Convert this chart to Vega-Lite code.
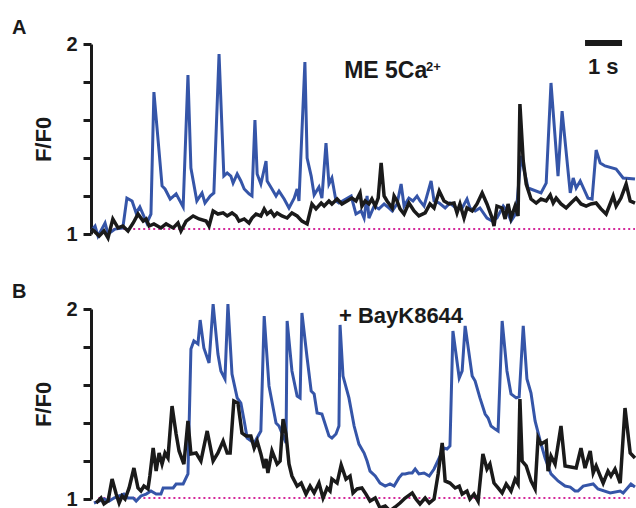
{
 "$schema": "https://vega.github.io/schema/vega-lite/v6.json",
 "background": "white",
 "padding": {"left": 12, "top": 18, "right": 0, "bottom": 0},
 "bounds": "flush",
 "spacing": 75,
 "config": {
  "view": {"stroke": null},
  "font": "Liberation Sans",
  "axisY": {
   "values": [1, 1.3333, 1.6667, 2],
   "labelExpr": "datum.value == 1 ? '1' : (datum.value == 2 ? '2' : '')",
   "titleFontSize": 22, "titleFontWeight": "bold", "titleColor": "#1a1a1a", "titlePadding": 10,
   "labelFontSize": 20, "labelFontWeight": "bold", "labelColor": "#1a1a1a", "labelPadding": 6,
   "tickSize": 8, "tickWidth": 3, "tickColor": "#1a1a1a", "domainWidth": 3, "domainColor": "#1a1a1a",
   "grid": false, "labelFlush": false, "labelOverlap": false
  },
  "title": {"anchor": "start", "frame": "group", "fontSize": 20, "fontWeight": "bold", "color": "#1a1a1a"}
 },
 "datasets": {
  "A": [
{"s":"b","t":0.00,"v":1.016},{"s":"b","t":0.11,"v":1.042},{"s":"b","t":0.19,"v":0.989},{"s":"b","t":0.38,"v":1.058},{"s":"b","t":0.46,"v":1.000},{"s":"b","t":0.65,"v":1.026},{"s":"b","t":0.86,"v":1.032},{"s":"b","t":0.97,"v":1.189},{"s":"b","t":1.11,"v":1.174},{"s":"b","t":1.22,"v":1.111},{"s":"b","t":1.32,"v":1.142},{"s":"b","t":1.51,"v":1.058},{"s":"b","t":1.62,"v":1.105},{"s":"b","t":1.70,"v":1.747},{"s":"b","t":1.92,"v":1.253},{"s":"b","t":2.00,"v":1.237},{"s":"b","t":2.14,"v":1.184},{"s":"b","t":2.30,"v":1.211},{"s":"b","t":2.49,"v":1.142},{"s":"b","t":2.62,"v":1.837},{"s":"b","t":2.70,"v":1.347},{"s":"b","t":2.86,"v":1.174},{"s":"b","t":3.00,"v":1.216},{"s":"b","t":3.08,"v":1.163},{"s":"b","t":3.22,"v":1.200},{"s":"b","t":3.32,"v":1.216},{"s":"b","t":3.46,"v":1.947},{"s":"b","t":3.59,"v":1.305},{"s":"b","t":3.68,"v":1.321},{"s":"b","t":3.78,"v":1.305},{"s":"b","t":3.84,"v":1.268},{"s":"b","t":3.95,"v":1.316},{"s":"b","t":4.05,"v":1.279},{"s":"b","t":4.14,"v":1.237},{"s":"b","t":4.27,"v":1.211},{"s":"b","t":4.35,"v":1.200},{"s":"b","t":4.43,"v":1.600},{"s":"b","t":4.49,"v":1.316},{"s":"b","t":4.59,"v":1.263},{"s":"b","t":4.73,"v":1.384},{"s":"b","t":4.76,"v":1.279},{"s":"b","t":4.89,"v":1.237},{"s":"b","t":5.00,"v":1.200},{"s":"b","t":5.08,"v":1.226},{"s":"b","t":5.22,"v":1.184},{"s":"b","t":5.35,"v":1.137},{"s":"b","t":5.49,"v":1.189},{"s":"b","t":5.57,"v":1.237},{"s":"b","t":5.62,"v":1.174},{"s":"b","t":5.78,"v":1.905},{"s":"b","t":5.84,"v":1.400},{"s":"b","t":5.95,"v":1.305},{"s":"b","t":6.03,"v":1.205},{"s":"b","t":6.16,"v":1.247},{"s":"b","t":6.24,"v":1.189},{"s":"b","t":6.35,"v":1.479},{"s":"b","t":6.43,"v":1.263},{"s":"b","t":6.51,"v":1.295},{"s":"b","t":6.62,"v":1.174},{"s":"b","t":6.70,"v":1.163},{"s":"b","t":7.03,"v":1.200},{"s":"b","t":7.16,"v":1.105},{"s":"b","t":7.30,"v":1.121},{"s":"b","t":7.38,"v":1.084},{"s":"b","t":7.46,"v":1.200},{"s":"b","t":7.51,"v":1.084},{"s":"b","t":7.65,"v":1.147},{"s":"b","t":7.78,"v":1.132},{"s":"b","t":7.92,"v":1.158},{"s":"b","t":8.05,"v":1.137},{"s":"b","t":8.14,"v":1.121},{"s":"b","t":8.27,"v":1.158},{"s":"b","t":8.38,"v":1.263},{"s":"b","t":8.46,"v":1.147},{"s":"b","t":8.59,"v":1.189},{"s":"b","t":8.70,"v":1.174},{"s":"b","t":8.81,"v":1.200},{"s":"b","t":8.89,"v":1.174},{"s":"b","t":9.00,"v":1.147},{"s":"b","t":9.19,"v":1.279},{"s":"b","t":9.27,"v":1.174},{"s":"b","t":9.41,"v":1.163},{"s":"b","t":9.57,"v":1.137},{"s":"b","t":9.70,"v":1.163},{"s":"b","t":9.89,"v":1.132},{"s":"b","t":10.03,"v":1.137},{"s":"b","t":10.16,"v":1.184},{"s":"b","t":10.24,"v":1.137},{"s":"b","t":10.38,"v":1.121},{"s":"b","t":10.51,"v":1.137},{"s":"b","t":10.70,"v":1.084},{"s":"b","t":10.84,"v":1.068},{"s":"b","t":10.97,"v":1.084},{"s":"b","t":11.14,"v":1.147},{"s":"b","t":11.24,"v":1.121},{"s":"b","t":11.35,"v":1.068},{"s":"b","t":11.49,"v":1.111},{"s":"b","t":11.62,"v":1.411},{"s":"b","t":11.81,"v":1.242},{"s":"b","t":12.16,"v":1.216},{"s":"b","t":12.30,"v":1.268},{"s":"b","t":12.43,"v":1.795},{"s":"b","t":12.62,"v":1.305},{"s":"b","t":12.73,"v":1.647},{"s":"b","t":12.95,"v":1.216},{"s":"b","t":13.03,"v":1.295},{"s":"b","t":13.11,"v":1.242},{"s":"b","t":13.22,"v":1.279},{"s":"b","t":13.43,"v":1.189},{"s":"b","t":13.54,"v":1.184},{"s":"b","t":13.65,"v":1.442},{"s":"b","t":13.76,"v":1.374},{"s":"b","t":13.89,"v":1.358},{"s":"b","t":14.19,"v":1.342},{"s":"b","t":14.38,"v":1.295},{"s":"b","t":14.70,"v":1.289},
{"s":"k","t":0.00,"v":1.026},{"s":"k","t":0.08,"v":1.016},{"s":"k","t":0.22,"v":0.989},{"s":"k","t":0.35,"v":1.016},{"s":"k","t":0.46,"v":0.979},{"s":"k","t":0.59,"v":1.079},{"s":"k","t":0.73,"v":1.032},{"s":"k","t":0.86,"v":1.042},{"s":"k","t":1.00,"v":1.016},{"s":"k","t":1.14,"v":1.058},{"s":"k","t":1.27,"v":1.105},{"s":"k","t":1.41,"v":1.068},{"s":"k","t":1.49,"v":1.079},{"s":"k","t":1.57,"v":1.042},{"s":"k","t":1.70,"v":1.053},{"s":"k","t":1.89,"v":1.032},{"s":"k","t":2.03,"v":1.053},{"s":"k","t":2.22,"v":1.032},{"s":"k","t":2.35,"v":1.058},{"s":"k","t":2.43,"v":1.016},{"s":"k","t":2.57,"v":1.068},{"s":"k","t":2.76,"v":1.095},{"s":"k","t":2.92,"v":1.079},{"s":"k","t":3.11,"v":1.068},{"s":"k","t":3.19,"v":1.042},{"s":"k","t":3.30,"v":1.121},{"s":"k","t":3.43,"v":1.105},{"s":"k","t":3.57,"v":1.111},{"s":"k","t":3.68,"v":1.095},{"s":"k","t":3.81,"v":1.111},{"s":"k","t":3.92,"v":1.095},{"s":"k","t":4.00,"v":1.068},{"s":"k","t":4.14,"v":1.079},{"s":"k","t":4.27,"v":1.058},{"s":"k","t":4.35,"v":1.084},{"s":"k","t":4.46,"v":1.105},{"s":"k","t":4.59,"v":1.095},{"s":"k","t":4.68,"v":1.132},{"s":"k","t":4.76,"v":1.105},{"s":"k","t":4.86,"v":1.121},{"s":"k","t":4.95,"v":1.095},{"s":"k","t":5.03,"v":1.111},{"s":"k","t":5.16,"v":1.095},{"s":"k","t":5.30,"v":1.084},{"s":"k","t":5.43,"v":1.111},{"s":"k","t":5.57,"v":1.095},{"s":"k","t":5.70,"v":1.068},{"s":"k","t":5.84,"v":1.053},{"s":"k","t":5.97,"v":1.158},{"s":"k","t":6.08,"v":1.132},{"s":"k","t":6.22,"v":1.163},{"s":"k","t":6.30,"v":1.147},{"s":"k","t":6.43,"v":1.174},{"s":"k","t":6.51,"v":1.158},{"s":"k","t":6.65,"v":1.184},{"s":"k","t":6.78,"v":1.158},{"s":"k","t":6.92,"v":1.174},{"s":"k","t":7.05,"v":1.189},{"s":"k","t":7.16,"v":1.174},{"s":"k","t":7.27,"v":1.216},{"s":"k","t":7.32,"v":1.147},{"s":"k","t":7.41,"v":1.174},{"s":"k","t":7.51,"v":1.158},{"s":"k","t":7.59,"v":1.184},{"s":"k","t":7.68,"v":1.147},{"s":"k","t":7.76,"v":1.189},{"s":"k","t":7.84,"v":1.374},{"s":"k","t":7.92,"v":1.200},{"s":"k","t":8.00,"v":1.174},{"s":"k","t":8.14,"v":1.137},{"s":"k","t":8.19,"v":1.200},{"s":"k","t":8.27,"v":1.174},{"s":"k","t":8.35,"v":1.132},{"s":"k","t":8.46,"v":1.105},{"s":"k","t":8.59,"v":1.163},{"s":"k","t":8.73,"v":1.121},{"s":"k","t":8.86,"v":1.095},{"s":"k","t":9.03,"v":1.111},{"s":"k","t":9.16,"v":1.158},{"s":"k","t":9.27,"v":1.137},{"s":"k","t":9.41,"v":1.226},{"s":"k","t":9.54,"v":1.174},{"s":"k","t":9.68,"v":1.158},{"s":"k","t":9.81,"v":1.163},{"s":"k","t":9.89,"v":1.111},{"s":"k","t":9.97,"v":1.158},{"s":"k","t":10.08,"v":1.084},{"s":"k","t":10.16,"v":1.137},{"s":"k","t":10.30,"v":1.121},{"s":"k","t":10.43,"v":1.158},{"s":"k","t":10.57,"v":1.216},{"s":"k","t":10.70,"v":1.158},{"s":"k","t":10.84,"v":1.084},{"s":"k","t":10.89,"v":1.042},{"s":"k","t":10.97,"v":1.147},{"s":"k","t":11.11,"v":1.137},{"s":"k","t":11.19,"v":1.079},{"s":"k","t":11.27,"v":1.158},{"s":"k","t":11.35,"v":1.084},{"s":"k","t":11.46,"v":1.147},{"s":"k","t":11.54,"v":1.095},{"s":"k","t":11.59,"v":1.684},{"s":"k","t":11.68,"v":1.384},{"s":"k","t":11.76,"v":1.263},{"s":"k","t":11.89,"v":1.184},{"s":"k","t":12.03,"v":1.163},{"s":"k","t":12.16,"v":1.184},{"s":"k","t":12.30,"v":1.174},{"s":"k","t":12.41,"v":1.205},{"s":"k","t":12.49,"v":1.163},{"s":"k","t":12.57,"v":1.189},{"s":"k","t":12.70,"v":1.158},{"s":"k","t":12.84,"v":1.137},{"s":"k","t":12.97,"v":1.163},{"s":"k","t":13.11,"v":1.189},{"s":"k","t":13.24,"v":1.158},{"s":"k","t":13.38,"v":1.147},{"s":"k","t":13.51,"v":1.158},{"s":"k","t":13.65,"v":1.163},{"s":"k","t":13.78,"v":1.132},{"s":"k","t":13.92,"v":1.105},{"s":"k","t":14.11,"v":1.200},{"s":"k","t":14.19,"v":1.147},{"s":"k","t":14.32,"v":1.189},{"s":"k","t":14.46,"v":1.263},{"s":"k","t":14.57,"v":1.174},{"s":"k","t":14.70,"v":1.163}
  ],
  "B": [
{"s":"b","t":0.08,"v":0.979},{"s":"b","t":0.22,"v":0.989},{"s":"b","t":0.35,"v":1.000},{"s":"b","t":0.49,"v":0.989},{"s":"b","t":0.62,"v":1.005},{"s":"b","t":0.76,"v":1.016},{"s":"b","t":0.89,"v":1.026},{"s":"b","t":1.00,"v":1.005},{"s":"b","t":1.14,"v":1.005},{"s":"b","t":1.22,"v":0.989},{"s":"b","t":1.35,"v":1.016},{"s":"b","t":1.49,"v":1.026},{"s":"b","t":1.62,"v":1.042},{"s":"b","t":1.76,"v":1.026},{"s":"b","t":1.89,"v":1.026},{"s":"b","t":1.95,"v":1.058},{"s":"b","t":2.22,"v":1.058},{"s":"b","t":2.30,"v":1.079},{"s":"b","t":2.49,"v":1.079},{"s":"b","t":2.62,"v":1.132},{"s":"b","t":2.70,"v":1.789},{"s":"b","t":2.78,"v":1.832},{"s":"b","t":2.89,"v":1.816},{"s":"b","t":2.95,"v":1.942},{"s":"b","t":3.05,"v":1.795},{"s":"b","t":3.19,"v":1.716},{"s":"b","t":3.30,"v":2.026},{"s":"b","t":3.43,"v":1.763},{"s":"b","t":3.51,"v":1.674},{"s":"b","t":3.62,"v":1.632},{"s":"b","t":3.70,"v":2.026},{"s":"b","t":3.81,"v":1.658},{"s":"b","t":3.95,"v":1.532},{"s":"b","t":4.05,"v":1.505},{"s":"b","t":4.14,"v":1.411},{"s":"b","t":4.22,"v":1.321},{"s":"b","t":4.41,"v":1.295},{"s":"b","t":4.59,"v":1.358},{"s":"b","t":4.68,"v":1.963},{"s":"b","t":4.81,"v":1.595},{"s":"b","t":5.00,"v":1.400},{"s":"b","t":5.08,"v":1.384},{"s":"b","t":5.16,"v":1.347},{"s":"b","t":5.27,"v":1.295},{"s":"b","t":5.30,"v":1.937},{"s":"b","t":5.43,"v":1.674},{"s":"b","t":5.57,"v":1.542},{"s":"b","t":5.65,"v":1.532},{"s":"b","t":5.70,"v":1.979},{"s":"b","t":5.84,"v":1.742},{"s":"b","t":5.95,"v":1.568},{"s":"b","t":6.03,"v":1.553},{"s":"b","t":6.11,"v":1.453},{"s":"b","t":6.24,"v":1.447},{"s":"b","t":6.43,"v":1.332},{"s":"b","t":6.51,"v":1.321},{"s":"b","t":6.62,"v":1.342},{"s":"b","t":6.70,"v":1.384},{"s":"b","t":6.73,"v":1.916},{"s":"b","t":6.81,"v":1.647},{"s":"b","t":6.97,"v":1.532},{"s":"b","t":7.11,"v":1.384},{"s":"b","t":7.24,"v":1.289},{"s":"b","t":7.38,"v":1.242},{"s":"b","t":7.46,"v":1.200},{"s":"b","t":7.54,"v":1.147},{"s":"b","t":7.68,"v":1.121},{"s":"b","t":7.81,"v":1.084},{"s":"b","t":7.95,"v":1.068},{"s":"b","t":8.08,"v":1.079},{"s":"b","t":8.19,"v":1.068},{"s":"b","t":8.32,"v":1.111},{"s":"b","t":8.41,"v":1.132},{"s":"b","t":8.49,"v":1.132},{"s":"b","t":8.59,"v":1.137},{"s":"b","t":8.68,"v":1.137},{"s":"b","t":8.76,"v":1.158},{"s":"b","t":8.86,"v":1.132},{"s":"b","t":9.00,"v":1.137},{"s":"b","t":9.14,"v":1.121},{"s":"b","t":9.27,"v":1.158},{"s":"b","t":9.41,"v":1.216},{"s":"b","t":9.54,"v":1.268},{"s":"b","t":9.62,"v":1.263},{"s":"b","t":9.70,"v":1.279},{"s":"b","t":9.78,"v":1.884},{"s":"b","t":9.95,"v":1.637},{"s":"b","t":10.03,"v":1.674},{"s":"b","t":10.11,"v":1.911},{"s":"b","t":10.30,"v":1.647},{"s":"b","t":10.38,"v":1.621},{"s":"b","t":10.51,"v":1.532},{"s":"b","t":10.65,"v":1.447},{"s":"b","t":10.73,"v":1.426},{"s":"b","t":10.81,"v":1.384},{"s":"b","t":10.92,"v":1.368},{"s":"b","t":11.00,"v":1.358},{"s":"b","t":11.11,"v":1.937},{"s":"b","t":11.24,"v":1.674},{"s":"b","t":11.35,"v":1.553},{"s":"b","t":11.49,"v":1.532},{"s":"b","t":11.57,"v":1.537},{"s":"b","t":11.68,"v":1.911},{"s":"b","t":11.78,"v":1.632},{"s":"b","t":11.89,"v":1.558},{"s":"b","t":12.00,"v":1.411},{"s":"b","t":12.14,"v":1.305},{"s":"b","t":12.27,"v":1.216},{"s":"b","t":12.43,"v":1.132},{"s":"b","t":12.62,"v":1.095},{"s":"b","t":12.81,"v":1.068},{"s":"b","t":12.95,"v":1.063},{"s":"b","t":13.08,"v":1.042},{"s":"b","t":13.16,"v":1.042},{"s":"b","t":13.30,"v":1.068},{"s":"b","t":13.57,"v":1.079},{"s":"b","t":13.70,"v":1.053},{"s":"b","t":14.03,"v":1.032},{"s":"b","t":14.30,"v":1.042},{"s":"b","t":14.38,"v":1.032},{"s":"b","t":14.59,"v":1.079},{"s":"b","t":14.70,"v":1.063},
{"s":"k","t":0.14,"v":0.979},{"s":"k","t":0.27,"v":1.005},{"s":"k","t":0.35,"v":0.974},{"s":"k","t":0.46,"v":0.989},{"s":"k","t":0.57,"v":1.105},{"s":"k","t":0.68,"v":1.026},{"s":"k","t":0.76,"v":0.979},{"s":"k","t":0.84,"v":1.016},{"s":"k","t":0.92,"v":1.000},{"s":"k","t":1.03,"v":1.058},{"s":"k","t":1.16,"v":1.163},{"s":"k","t":1.27,"v":1.058},{"s":"k","t":1.35,"v":1.042},{"s":"k","t":1.43,"v":1.068},{"s":"k","t":1.54,"v":1.053},{"s":"k","t":1.59,"v":1.121},{"s":"k","t":1.68,"v":1.268},{"s":"k","t":1.76,"v":1.147},{"s":"k","t":1.84,"v":1.242},{"s":"k","t":1.92,"v":1.184},{"s":"k","t":2.00,"v":1.242},{"s":"k","t":2.08,"v":1.216},{"s":"k","t":2.19,"v":1.489},{"s":"k","t":2.30,"v":1.342},{"s":"k","t":2.38,"v":1.253},{"s":"k","t":2.51,"v":1.184},{"s":"k","t":2.62,"v":1.411},{"s":"k","t":2.70,"v":1.237},{"s":"k","t":2.84,"v":1.242},{"s":"k","t":2.97,"v":1.200},{"s":"k","t":3.14,"v":1.358},{"s":"k","t":3.30,"v":1.200},{"s":"k","t":3.43,"v":1.242},{"s":"k","t":3.57,"v":1.305},{"s":"k","t":3.68,"v":1.242},{"s":"k","t":3.76,"v":1.242},{"s":"k","t":3.86,"v":1.516},{"s":"k","t":3.97,"v":1.505},{"s":"k","t":4.08,"v":1.347},{"s":"k","t":4.19,"v":1.332},{"s":"k","t":4.32,"v":1.332},{"s":"k","t":4.41,"v":1.268},{"s":"k","t":4.49,"v":1.305},{"s":"k","t":4.59,"v":1.237},{"s":"k","t":4.68,"v":1.163},{"s":"k","t":4.73,"v":1.211},{"s":"k","t":4.78,"v":1.137},{"s":"k","t":4.89,"v":1.253},{"s":"k","t":5.03,"v":1.184},{"s":"k","t":5.11,"v":1.200},{"s":"k","t":5.19,"v":1.421},{"s":"k","t":5.27,"v":1.342},{"s":"k","t":5.35,"v":1.184},{"s":"k","t":5.43,"v":1.121},{"s":"k","t":5.57,"v":1.068},{"s":"k","t":5.68,"v":1.084},{"s":"k","t":5.81,"v":1.026},{"s":"k","t":5.92,"v":1.068},{"s":"k","t":6.03,"v":1.032},{"s":"k","t":6.16,"v":1.084},{"s":"k","t":6.27,"v":1.005},{"s":"k","t":6.38,"v":1.058},{"s":"k","t":6.46,"v":1.042},{"s":"k","t":6.51,"v":1.105},{"s":"k","t":6.65,"v":1.084},{"s":"k","t":6.76,"v":1.179},{"s":"k","t":6.89,"v":1.105},{"s":"k","t":7.00,"v":1.121},{"s":"k","t":7.08,"v":1.032},{"s":"k","t":7.19,"v":1.053},{"s":"k","t":7.32,"v":1.058},{"s":"k","t":7.43,"v":1.026},{"s":"k","t":7.54,"v":0.989},{"s":"k","t":7.68,"v":1.005},{"s":"k","t":7.81,"v":0.953},{"s":"k","t":7.95,"v":0.963},{"s":"k","t":8.08,"v":0.937},{"s":"k","t":8.22,"v":0.958},{"s":"k","t":8.35,"v":0.979},{"s":"k","t":8.49,"v":1.005},{"s":"k","t":8.68,"v":1.032},{"s":"k","t":8.78,"v":1.000},{"s":"k","t":8.89,"v":0.974},{"s":"k","t":9.03,"v":1.005},{"s":"k","t":9.14,"v":0.979},{"s":"k","t":9.27,"v":1.000},{"s":"k","t":9.38,"v":1.132},{"s":"k","t":9.49,"v":1.295},{"s":"k","t":9.57,"v":1.095},{"s":"k","t":9.70,"v":1.084},{"s":"k","t":9.84,"v":1.058},{"s":"k","t":9.95,"v":1.068},{"s":"k","t":10.03,"v":1.026},{"s":"k","t":10.16,"v":1.042},{"s":"k","t":10.24,"v":1.000},{"s":"k","t":10.35,"v":1.026},{"s":"k","t":10.46,"v":0.989},{"s":"k","t":10.59,"v":1.237},{"s":"k","t":10.70,"v":1.158},{"s":"k","t":10.78,"v":1.184},{"s":"k","t":10.89,"v":1.084},{"s":"k","t":11.00,"v":1.058},{"s":"k","t":11.11,"v":1.032},{"s":"k","t":11.22,"v":1.079},{"s":"k","t":11.35,"v":1.042},{"s":"k","t":11.46,"v":1.105},{"s":"k","t":11.54,"v":1.079},{"s":"k","t":11.59,"v":1.526},{"s":"k","t":11.65,"v":1.200},{"s":"k","t":11.76,"v":1.174},{"s":"k","t":11.89,"v":1.095},{"s":"k","t":12.00,"v":1.053},{"s":"k","t":12.08,"v":1.321},{"s":"k","t":12.16,"v":1.289},{"s":"k","t":12.30,"v":1.305},{"s":"k","t":12.35,"v":1.147},{"s":"k","t":12.43,"v":1.226},{"s":"k","t":12.54,"v":1.184},{"s":"k","t":12.70,"v":1.384},{"s":"k","t":12.81,"v":1.174},{"s":"k","t":13.11,"v":1.163},{"s":"k","t":13.24,"v":1.268},{"s":"k","t":13.35,"v":1.163},{"s":"k","t":13.49,"v":1.253},{"s":"k","t":13.57,"v":1.137},{"s":"k","t":13.65,"v":1.174},{"s":"k","t":13.76,"v":1.121},{"s":"k","t":13.84,"v":1.084},{"s":"k","t":13.97,"v":1.147},{"s":"k","t":14.05,"v":1.121},{"s":"k","t":14.16,"v":1.158},{"s":"k","t":14.30,"v":1.084},{"s":"k","t":14.43,"v":1.479},{"s":"k","t":14.57,"v":1.242},{"s":"k","t":14.70,"v":1.216}
  ]
 },
 "vconcat": [
  {
   "width": 544, "height": 190,
   "title": {"text": "A", "dx": -79, "offset": -4},
   "data": {"name": "A"},
   "encoding": {
    "x": {"field": "t", "type": "quantitative", "scale": {"domain": [0, 14.7], "nice": false, "zero": false}, "axis": null},
    "y": {"field": "v", "type": "quantitative", "scale": {"domain": [1, 2], "nice": false, "zero": false}, "axis": {"title": "F/F0"}}
   },
   "layer": [
    {"data": {"values": [{"t": 0.6, "t2": 14.7, "v": 1.026}]}, "mark": {"type": "rule", "color": "#d42a9c", "strokeWidth": 2, "strokeDash": [2, 3]}, "encoding": {"x2": {"field": "t2"}}},
    {"transform": [{"filter": "datum.s == 'b'"}], "mark": {"type": "line", "color": "#3555a8", "strokeWidth": 3, "strokeJoin": "miter"}},
    {"transform": [{"filter": "datum.s == 'k'"}], "mark": {"type": "line", "color": "#1a1a1a", "strokeWidth": 3.5, "strokeJoin": "miter"}},
    {"data": {"values": [{"t": 6.84, "v": 1.821, "label": "ME 5Ca"}]}, "mark": {"type": "text", "align": "left", "baseline": "alphabetic", "fontSize": 23, "fontWeight": "bold", "color": "#1a1a1a"}, "encoding": {"text": {"field": "label"}}},
    {"data": {"values": [{"t": 9.05, "v": 1.858, "label": "2+"}]}, "mark": {"type": "text", "align": "left", "baseline": "alphabetic", "fontSize": 13, "fontWeight": "bold", "color": "#1a1a1a"}, "encoding": {"text": {"field": "label"}}},
    {"data": {"values": [{"t": 13.35, "t2": 14.35, "v": 2.005}]}, "mark": {"type": "rule", "color": "#1a1a1a", "strokeWidth": 6}, "encoding": {"x2": {"field": "t2"}}},
    {"data": {"values": [{"t": 13.84, "v": 1.842, "label": "1 s"}]}, "mark": {"type": "text", "align": "center", "baseline": "alphabetic", "fontSize": 22, "fontWeight": "bold", "color": "#1a1a1a"}, "encoding": {"text": {"field": "label"}}}
   ]
  },
  {
   "width": 544, "height": 190,
   "title": {"text": "B", "dx": -79, "offset": -4},
   "data": {"name": "B"},
   "encoding": {
    "x": {"field": "t", "type": "quantitative", "scale": {"domain": [0, 14.7], "nice": false, "zero": false}, "axis": null},
    "y": {"field": "v", "type": "quantitative", "scale": {"domain": [1, 2], "nice": false, "zero": false}, "axis": {"title": "F/F0"}}
   },
   "layer": [
    {"data": {"values": [{"t": 0.2, "t2": 14.55, "v": 1.005}]}, "mark": {"type": "rule", "color": "#d42a9c", "strokeWidth": 2, "strokeDash": [2, 3]}, "encoding": {"x2": {"field": "t2"}}},
    {"transform": [{"filter": "datum.s == 'b'"}], "mark": {"type": "line", "color": "#3555a8", "strokeWidth": 3, "strokeJoin": "miter"}},
    {"transform": [{"filter": "datum.s == 'k'"}], "mark": {"type": "line", "color": "#1a1a1a", "strokeWidth": 3.5, "strokeJoin": "miter"}},
    {"data": {"values": [{"t": 6.70, "v": 1.926, "label": "+ BayK8644"}]}, "mark": {"type": "text", "align": "left", "baseline": "alphabetic", "fontSize": 22, "fontWeight": "bold", "color": "#1a1a1a"}, "encoding": {"text": {"field": "label"}}}
   ]
  }
 ]
}
